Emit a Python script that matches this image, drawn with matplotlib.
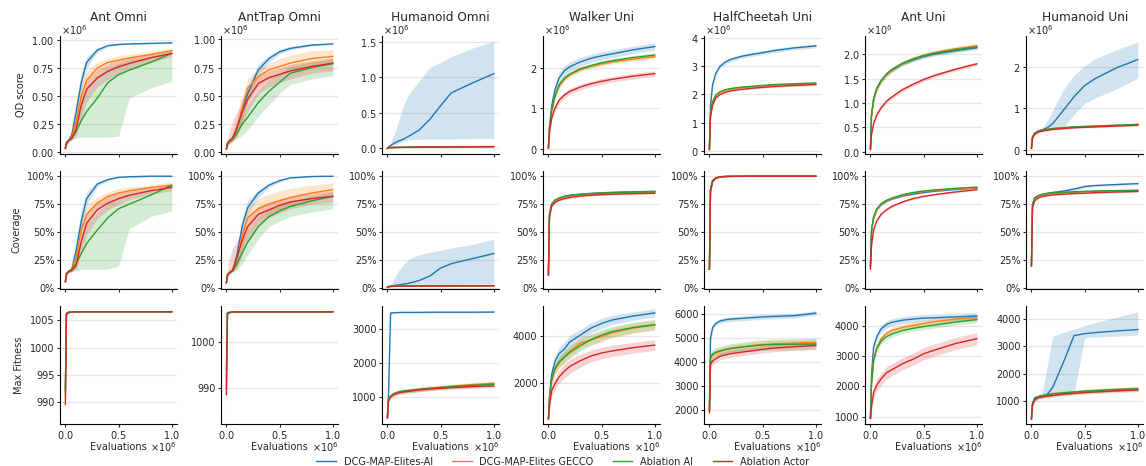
import numpy as np
import matplotlib
matplotlib.use("Agg")
import matplotlib.pyplot as plt
import matplotlib.ticker as mtick

evals = [0, 0.01, 0.03, 0.06, 0.1, 0.15, 0.2, 0.3, 0.4, 0.5, 0.6, 0.8, 1.0]

methods = ['DCG-MAP-Elites-AI', 'DCG-MAP-Elites GECCO', 'Ablation AI', 'Ablation Actor']
colors = ['#1f77b4', '#ff7f0e', '#2ca02c', '#d62728']
envs = ['Ant Omni', 'AntTrap Omni', 'Humanoid Omni', 'Walker Uni',
        'HalfCheetah Uni', 'Ant Uni', 'Humanoid Uni']
row_labels = ['QD score', 'Coverage', 'Max Fitness']

# ---------------- QD score (x1e6) ----------------
qd_ant_omni_mean = [
    [0.03, 0.07, 0.10, 0.15, 0.35, 0.62, 0.80, 0.91, 0.95, 0.96, 0.965, 0.97, 0.975],
    [0.03, 0.08, 0.10, 0.13, 0.27, 0.50, 0.64, 0.75, 0.80, 0.82, 0.84, 0.87, 0.905],
    [0.03, 0.08, 0.10, 0.12, 0.18, 0.28, 0.36, 0.48, 0.62, 0.69, 0.73, 0.80, 0.88],
    [0.03, 0.08, 0.10, 0.12, 0.20, 0.42, 0.56, 0.66, 0.72, 0.76, 0.79, 0.84, 0.88]]
qd_ant_omni_lo = [
    [0.02, 0.05, 0.08, 0.12, 0.28, 0.54, 0.75, 0.89, 0.94, 0.955, 0.96, 0.965, 0.97],
    [0.02, 0.06, 0.09, 0.11, 0.18, 0.38, 0.55, 0.68, 0.74, 0.77, 0.80, 0.84, 0.88],
    [0.02, 0.06, 0.09, 0.11, 0.12, 0.13, 0.13, 0.13, 0.13, 0.14, 0.48, 0.57, 0.63],
    [0.02, 0.06, 0.09, 0.10, 0.14, 0.30, 0.45, 0.58, 0.65, 0.70, 0.74, 0.80, 0.85]]
qd_ant_omni_hi = [
    [0.04, 0.09, 0.12, 0.20, 0.45, 0.72, 0.85, 0.93, 0.96, 0.97, 0.97, 0.975, 0.98],
    [0.04, 0.10, 0.12, 0.16, 0.36, 0.60, 0.72, 0.80, 0.84, 0.86, 0.87, 0.90, 0.925],
    [0.04, 0.10, 0.12, 0.15, 0.28, 0.45, 0.58, 0.68, 0.75, 0.79, 0.82, 0.86, 0.90],
    [0.04, 0.10, 0.12, 0.15, 0.30, 0.52, 0.65, 0.74, 0.79, 0.82, 0.84, 0.88, 0.91]]

qd_anttrap_mean = [
    [0.03, 0.07, 0.10, 0.12, 0.22, 0.37, 0.52, 0.73, 0.83, 0.89, 0.92, 0.95, 0.96],
    [0.03, 0.08, 0.10, 0.12, 0.22, 0.40, 0.57, 0.67, 0.73, 0.76, 0.79, 0.83, 0.85],
    [0.03, 0.08, 0.10, 0.12, 0.17, 0.25, 0.31, 0.44, 0.54, 0.62, 0.70, 0.75, 0.785],
    [0.03, 0.08, 0.10, 0.13, 0.22, 0.36, 0.47, 0.61, 0.66, 0.69, 0.72, 0.76, 0.79]]
qd_anttrap_lo = [
    [0.02, 0.05, 0.08, 0.10, 0.17, 0.30, 0.45, 0.68, 0.80, 0.87, 0.91, 0.94, 0.955],
    [0.02, 0.06, 0.08, 0.10, 0.14, 0.28, 0.45, 0.58, 0.64, 0.68, 0.72, 0.77, 0.79],
    [0.02, 0.06, 0.08, 0.10, 0.12, 0.15, 0.20, 0.32, 0.42, 0.52, 0.60, 0.65, 0.68],
    [0.02, 0.06, 0.08, 0.10, 0.15, 0.25, 0.36, 0.52, 0.58, 0.62, 0.65, 0.70, 0.72]]
qd_anttrap_hi = [
    [0.04, 0.09, 0.12, 0.15, 0.27, 0.44, 0.58, 0.78, 0.86, 0.91, 0.94, 0.96, 0.965],
    [0.04, 0.10, 0.13, 0.16, 0.32, 0.50, 0.65, 0.74, 0.79, 0.83, 0.86, 0.90, 0.91],
    [0.04, 0.10, 0.12, 0.14, 0.22, 0.33, 0.42, 0.55, 0.64, 0.70, 0.76, 0.80, 0.83],
    [0.04, 0.12, 0.20, 0.28, 0.36, 0.47, 0.55, 0.68, 0.72, 0.75, 0.78, 0.81, 0.84]]

qd_humanoid_omni_mean = [
    [0.0, 0.02, 0.04, 0.07, 0.10, 0.13, 0.17, 0.26, 0.41, 0.60, 0.78, 0.92, 1.05],
    [0.0, 0.008, 0.011, 0.013, 0.015, 0.016, 0.017, 0.019, 0.020, 0.021, 0.022, 0.024, 0.026],
    [0.0, 0.008, 0.011, 0.013, 0.015, 0.016, 0.017, 0.019, 0.020, 0.021, 0.022, 0.024, 0.025],
    [0.0, 0.008, 0.011, 0.013, 0.014, 0.015, 0.016, 0.018, 0.019, 0.020, 0.021, 0.023, 0.024]]
qd_humanoid_omni_band = [0.0, 0.004, 0.004, 0.004]
qd_humanoid_omni_lo = [
    [0.0, 0.01, 0.02, 0.04, 0.07, 0.10, 0.12, 0.13, 0.13, 0.13, 0.13, 0.14, 0.14], None, None, None]
qd_humanoid_omni_hi = [
    [0.0, 0.03, 0.08, 0.18, 0.36, 0.60, 0.76, 0.95, 1.14, 1.21, 1.29, 1.41, 1.51], None, None, None]

qd_walker_mean = [
    [0.02, 0.55, 1.05, 1.45, 1.75, 1.93, 2.03, 2.15, 2.24, 2.30, 2.35, 2.45, 2.53],
    [0.02, 0.50, 0.93, 1.27, 1.55, 1.72, 1.83, 1.96, 2.04, 2.10, 2.15, 2.22, 2.28],
    [0.02, 0.50, 0.95, 1.30, 1.58, 1.75, 1.85, 1.98, 2.06, 2.13, 2.18, 2.26, 2.32],
    [0.02, 0.40, 0.75, 1.00, 1.20, 1.33, 1.42, 1.53, 1.61, 1.67, 1.72, 1.80, 1.86]]
qd_walker_band = [
    [0.01, 0.08, 0.12, 0.14, 0.14, 0.13, 0.12, 0.11, 0.10, 0.10, 0.10, 0.09, 0.09],
    [0.01, 0.05, 0.06, 0.06, 0.06, 0.05, 0.05, 0.05, 0.05, 0.05, 0.05, 0.05, 0.05],
    [0.01, 0.05, 0.06, 0.06, 0.06, 0.05, 0.05, 0.05, 0.05, 0.05, 0.05, 0.05, 0.05],
    [0.01, 0.05, 0.07, 0.08, 0.08, 0.08, 0.07, 0.07, 0.07, 0.07, 0.07, 0.07, 0.07]]

qd_halfcheetah_mean = [
    [0.05, 1.60, 2.35, 2.75, 3.00, 3.15, 3.24, 3.35, 3.42, 3.48, 3.55, 3.65, 3.72],
    [0.05, 1.30, 1.73, 1.96, 2.08, 2.15, 2.19, 2.24, 2.27, 2.30, 2.33, 2.36, 2.38],
    [0.05, 1.30, 1.75, 1.98, 2.10, 2.17, 2.21, 2.26, 2.29, 2.32, 2.35, 2.38, 2.41],
    [0.05, 1.20, 1.62, 1.88, 2.00, 2.08, 2.13, 2.18, 2.22, 2.25, 2.28, 2.32, 2.35]]
qd_halfcheetah_band = [
    [0.02, 0.10, 0.10, 0.08, 0.07, 0.07, 0.07, 0.07, 0.07, 0.07, 0.07, 0.07, 0.07],
    0.03, 0.03, 0.03]

qd_ant_uni_mean = [
    [0.05, 0.75, 1.08, 1.30, 1.45, 1.58, 1.67, 1.80, 1.88, 1.95, 2.00, 2.07, 2.13],
    [0.05, 0.72, 1.05, 1.28, 1.44, 1.58, 1.68, 1.81, 1.90, 1.97, 2.03, 2.11, 2.17],
    [0.05, 0.75, 1.08, 1.30, 1.46, 1.59, 1.68, 1.81, 1.90, 1.97, 2.02, 2.09, 2.15],
    [0.05, 0.35, 0.58, 0.76, 0.90, 1.03, 1.12, 1.27, 1.38, 1.48, 1.56, 1.69, 1.80]]
qd_ant_uni_band = [0.04, 0.05, 0.04, 0.04]

qd_humanoid_uni_mean = [
    [0.03, 0.30, 0.40, 0.45, 0.48, 0.53, 0.63, 0.95, 1.28, 1.55, 1.72, 1.98, 2.18],
    [0.03, 0.30, 0.39, 0.44, 0.47, 0.49, 0.51, 0.53, 0.55, 0.56, 0.57, 0.59, 0.61],
    [0.03, 0.30, 0.39, 0.44, 0.47, 0.49, 0.51, 0.53, 0.55, 0.56, 0.57, 0.59, 0.61],
    [0.03, 0.28, 0.37, 0.42, 0.45, 0.47, 0.49, 0.51, 0.53, 0.54, 0.55, 0.57, 0.59]]
qd_humanoid_uni_band = [0.0, 0.02, 0.02, 0.02]
qd_humanoid_uni_lo = [
    [0.03, 0.29, 0.39, 0.44, 0.46, 0.48, 0.49, 0.52, 0.85, 1.12, 1.25, 1.47, 1.73], None, None, None]
qd_humanoid_uni_hi = [
    [0.03, 0.31, 0.42, 0.47, 0.52, 0.70, 0.95, 1.45, 1.80, 2.03, 2.20, 2.42, 2.60], None, None, None]

# ---------------- Coverage (%) ----------------
cov_ant_omni_mean = [
    [6, 13, 15, 17, 33, 60, 80, 93, 97, 99, 99.5, 100, 100],
    [6, 13, 15, 17, 27, 52, 66, 76, 82, 85, 87, 90, 92],
    [6, 13, 15, 17, 22, 31, 40, 52, 63, 71, 75, 83, 92],
    [6, 13, 15, 16, 20, 42, 58, 70, 76, 80, 83, 87, 90]]
cov_ant_omni_lo = [
    [5, 11, 14, 15, 26, 52, 74, 91, 96, 98.5, 99, 99.5, 99.5],
    [5, 11, 14, 15, 20, 42, 57, 70, 77, 81, 84, 88, 90],
    [5, 11, 14, 15, 16, 17, 17, 17, 17, 20, 53, 64, 69],
    [5, 11, 14, 15, 16, 32, 48, 62, 70, 75, 79, 84, 87]]
cov_ant_omni_hi = [
    [7, 15, 16, 19, 42, 70, 86, 95, 98, 99.5, 100, 100, 100.3],
    [7, 15, 16, 19, 35, 62, 74, 82, 86, 89, 90, 92, 95],
    [7, 15, 16, 19, 30, 45, 57, 68, 76, 81, 84, 87, 93],
    [7, 15, 16, 18, 28, 52, 67, 77, 82, 85, 87, 90, 92]]

cov_anttrap_mean = [
    [5, 12, 14, 16, 30, 56, 72, 85, 92, 96, 98.5, 99.7, 100],
    [5, 12, 14, 16, 27, 47, 63, 71, 75, 78, 81, 85, 88],
    [5, 12, 14, 16, 22, 32, 41, 55, 64, 69, 73, 78, 82],
    [5, 12, 14, 16, 28, 43, 55, 66, 70, 74, 77, 80, 82]]
cov_anttrap_lo = [
    [4, 10, 13, 15, 24, 48, 66, 81, 90, 95, 98, 99.5, 99.8],
    [4, 10, 13, 15, 20, 36, 52, 62, 66, 70, 74, 79, 82],
    [4, 10, 13, 15, 16, 22, 30, 44, 55, 60, 64, 68, 71],
    [4, 10, 13, 15, 18, 30, 43, 57, 63, 67, 71, 75, 77]]
cov_anttrap_hi = [
    [6, 14, 15, 18, 36, 63, 78, 88, 94, 97.5, 99, 100, 100.2],
    [6, 14, 16, 20, 35, 58, 72, 80, 84, 87, 89, 92, 94],
    [6, 14, 15, 18, 28, 42, 52, 63, 70, 75, 78, 82, 86],
    [6, 18, 28, 36, 42, 54, 65, 73, 77, 80, 82, 85, 87]]

cov_humanoid_omni_mean = [
    [1, 1.5, 2, 2.5, 3, 3.7, 4.5, 7, 11, 18, 22, 26.5, 31],
    [1, 1.5, 1.7, 1.8, 1.9, 2.0, 2.0, 2.1, 2.1, 2.2, 2.2, 2.3, 2.4],
    [1, 1.5, 1.7, 1.8, 1.9, 2.0, 2.0, 2.1, 2.1, 2.2, 2.2, 2.3, 2.3],
    [1, 1.5, 1.7, 1.8, 1.9, 1.9, 2.0, 2.0, 2.1, 2.1, 2.2, 2.2, 2.3]]
cov_humanoid_omni_band = [0.0, 0.3, 0.3, 0.3]
cov_humanoid_omni_lo = [
    [1, 1.2, 1.5, 1.8, 2, 2.3, 2.5, 2.8, 3, 3.2, 3.4, 3.6, 3.8], None, None, None]
cov_humanoid_omni_hi = [
    [1, 1.5, 2.5, 8, 15, 21, 26, 30, 32, 34, 36, 39, 44], None, None, None]

cov_walker_mean = [
    [12, 66, 75, 78.5, 80.5, 82, 83, 84, 84.7, 85.2, 85.6, 86.1, 86.5],
    [12, 65, 74, 78, 80, 81.5, 82.5, 83.5, 84.1, 84.6, 85, 85.5, 85.8],
    [12, 66, 75, 78.5, 80.5, 82, 82.8, 83.8, 84.4, 84.9, 85.3, 85.8, 86.1],
    [12, 64, 73, 76.5, 78.5, 80, 81, 82.3, 83, 83.5, 83.9, 84.4, 84.8]]
cov_walker_band = [1.0, 0.6, 0.6, 0.6]

cov_halfcheetah_mean = [
    [17, 88, 96, 98.5, 99.5, 99.8, 99.9, 100, 100, 100, 100, 100, 100],
    [17, 88, 96, 98.5, 99.4, 99.7, 99.9, 100, 100, 100, 100, 100, 100],
    [17, 88, 96, 98.5, 99.5, 99.8, 99.9, 100, 100, 100, 100, 100, 100],
    [17, 87, 95.5, 98.3, 99.3, 99.7, 99.8, 99.9, 100, 100, 100, 100, 100]]
cov_halfcheetah_band = [
    [0.5, 3, 1, 0.5, 0.3, 0.2, 0.2, 0.1, 0.1, 0.1, 0.1, 0.1, 0.1],
    [0.5, 3, 1, 0.5, 0.3, 0.2, 0.2, 0.1, 0.1, 0.1, 0.1, 0.1, 0.1],
    [0.5, 3, 1, 0.5, 0.3, 0.2, 0.2, 0.1, 0.1, 0.1, 0.1, 0.1, 0.1],
    [0.5, 3, 1, 0.5, 0.3, 0.2, 0.2, 0.1, 0.1, 0.1, 0.1, 0.1, 0.1]]

cov_ant_uni_mean = [
    [20, 51, 63, 70, 74.5, 77.5, 79.5, 82.3, 84, 85.5, 86.6, 88.2, 89.5],
    [20, 51, 63, 70, 75, 78, 80, 83, 85, 86.3, 87.3, 88.7, 89.5],
    [20, 52, 64, 71, 75.5, 78.5, 80.5, 83.5, 85.5, 86.8, 87.8, 89.2, 90.3],
    [17, 38, 52, 60, 66, 70, 73, 77, 80, 82, 83.5, 86, 88]]
cov_ant_uni_band = [0.8, 0.8, 0.8, 0.8]

cov_humanoid_uni_mean = [
    [20, 75, 80.5, 82.5, 83.8, 84.8, 85.5, 86.7, 88.5, 90.8, 91.7, 92.6, 93.4],
    [20, 74.5, 80, 82, 83.3, 84.2, 84.7, 85.4, 85.8, 86.2, 86.5, 86.9, 87.2],
    [20, 75, 80.5, 82.5, 83.7, 84.5, 85, 85.7, 86.1, 86.5, 86.8, 87.2, 87.5],
    [20, 72, 78, 80.5, 81.8, 82.7, 83.3, 84, 84.5, 84.9, 85.3, 85.9, 86.4]]
cov_humanoid_uni_band = [
    [0.5, 1.5, 1, 1, 1, 1, 1.2, 1.5, 1.6, 1.3, 1, 1, 1], 0.6, 0.6, 0.6]

# ---------------- Max fitness ----------------
fit_ant_omni_mean = [
    [992, 1006.3, 1006.5, 1006.55, 1006.6, 1006.6, 1006.6, 1006.6, 1006.6, 1006.6, 1006.6, 1006.6, 1006.6],
    [991, 1006.2, 1006.5, 1006.55, 1006.6, 1006.6, 1006.6, 1006.6, 1006.6, 1006.6, 1006.6, 1006.6, 1006.6],
    [992.5, 1006.3, 1006.5, 1006.55, 1006.6, 1006.6, 1006.6, 1006.6, 1006.6, 1006.6, 1006.6, 1006.6, 1006.6],
    [989.5, 1006.2, 1006.45, 1006.55, 1006.6, 1006.6, 1006.6, 1006.6, 1006.6, 1006.6, 1006.6, 1006.6, 1006.6]]
fit_ant_omni_band = [
    [1.0, 0.3, 0.1, 0.05, 0.05, 0.05, 0.05, 0.05, 0.05, 0.05, 0.05, 0.05, 0.05],
    [1.0, 0.3, 0.1, 0.05, 0.05, 0.05, 0.05, 0.05, 0.05, 0.05, 0.05, 0.05, 0.05],
    [1.0, 0.3, 0.1, 0.05, 0.05, 0.05, 0.05, 0.05, 0.05, 0.05, 0.05, 0.05, 0.05],
    [2.6, 0.4, 0.1, 0.05, 0.05, 0.05, 0.05, 0.05, 0.05, 0.05, 0.05, 0.05, 0.05]]

fit_anttrap_mean = [
    [990, 1006.2, 1006.45, 1006.5, 1006.55, 1006.6, 1006.6, 1006.6, 1006.6, 1006.6, 1006.6, 1006.6, 1006.6],
    [992, 1006.3, 1006.5, 1006.55, 1006.6, 1006.6, 1006.6, 1006.6, 1006.6, 1006.6, 1006.6, 1006.6, 1006.6],
    [994, 1006.4, 1006.5, 1006.55, 1006.6, 1006.6, 1006.6, 1006.6, 1006.6, 1006.6, 1006.6, 1006.6, 1006.6],
    [988.5, 1006.2, 1006.45, 1006.55, 1006.6, 1006.6, 1006.6, 1006.6, 1006.6, 1006.6, 1006.6, 1006.6, 1006.6]]
fit_anttrap_band = [
    [6.5, 0.4, 0.1, 0.05, 0.05, 0.05, 0.05, 0.05, 0.05, 0.05, 0.05, 0.05, 0.05],
    [1.5, 0.3, 0.1, 0.05, 0.05, 0.05, 0.05, 0.05, 0.05, 0.05, 0.05, 0.05, 0.05],
    [1.0, 0.3, 0.1, 0.05, 0.05, 0.05, 0.05, 0.05, 0.05, 0.05, 0.05, 0.05, 0.05],
    [2.0, 0.4, 0.1, 0.05, 0.05, 0.05, 0.05, 0.05, 0.05, 0.05, 0.05, 0.05, 0.05]]

fit_humanoid_omni_mean = [
    [380, 1000, 3480, 3490, 3495, 3500, 3500, 3500, 3505, 3505, 3505, 3505, 3510],
    [380, 900, 1010, 1080, 1130, 1160, 1180, 1220, 1250, 1280, 1310, 1360, 1400],
    [380, 920, 1020, 1090, 1140, 1170, 1190, 1220, 1250, 1275, 1300, 1340, 1370],
    [380, 880, 1000, 1070, 1110, 1140, 1160, 1200, 1230, 1250, 1270, 1300, 1320]]
fit_humanoid_omni_band = [
    [30, 150, 40, 25, 20, 20, 20, 20, 20, 20, 20, 20, 20], 60, 60, 50]

fit_walker_mean = [
    [450, 1400, 2350, 2900, 3250, 3450, 3750, 4050, 4350, 4550, 4700, 4870, 5000],
    [450, 1300, 2100, 2550, 2850, 3100, 3350, 3700, 3850, 3980, 4150, 4350, 4480],
    [450, 1350, 2150, 2600, 2900, 3100, 3300, 3600, 3850, 4050, 4200, 4380, 4500],
    [450, 1000, 1650, 1950, 2250, 2500, 2700, 2950, 3150, 3280, 3370, 3510, 3620]]
fit_walker_band = [
    [80, 200, 250, 250, 280, 300, 280, 250, 230, 220, 200, 180, 180],
    [80, 200, 220, 220, 230, 250, 250, 240, 230, 230, 220, 220, 220],
    [80, 200, 220, 220, 230, 250, 250, 240, 230, 230, 220, 220, 220],
    [80, 200, 230, 250, 280, 300, 300, 280, 260, 250, 240, 230, 230]]

fit_halfcheetah_mean = [
    [2100, 5000, 5450, 5620, 5720, 5770, 5800, 5830, 5860, 5890, 5910, 5940, 6050],
    [2000, 4150, 4300, 4380, 4450, 4520, 4570, 4640, 4700, 4740, 4770, 4800, 4830],
    [2000, 4200, 4350, 4420, 4480, 4530, 4580, 4630, 4680, 4720, 4740, 4750, 4760],
    [1900, 3900, 4050, 4150, 4250, 4310, 4360, 4420, 4480, 4540, 4590, 4650, 4700]]
fit_halfcheetah_band = [
    [250, 200, 120, 100, 100, 100, 100, 100, 100, 100, 100, 100, 100],
    [250, 200, 150, 150, 150, 150, 150, 150, 150, 150, 150, 150, 150],
    [300, 250, 200, 200, 200, 200, 200, 200, 220, 230, 230, 230, 230],
    [250, 200, 150, 150, 150, 150, 150, 150, 150, 150, 150, 150, 150]]

fit_ant_uni_mean = [
    [950, 2400, 3300, 3650, 3900, 4050, 4120, 4190, 4230, 4260, 4270, 4300, 4330],
    [950, 2100, 2900, 3300, 3580, 3750, 3850, 3950, 4020, 4080, 4140, 4230, 4280],
    [950, 2050, 2850, 3250, 3500, 3650, 3730, 3850, 3920, 3980, 4030, 4130, 4210],
    [950, 1350, 1800, 2050, 2250, 2450, 2550, 2750, 2900, 3080, 3200, 3420, 3580]]
fit_ant_uni_band = [120, 100, 100, 200]

fit_humanoid_uni_mean = [
    [350, 900, 1120, 1160, 1180, 1250, 1500, 2400, 3380, 3450, 3490, 3550, 3600],
    [350, 880, 1060, 1140, 1180, 1220, 1250, 1290, 1320, 1350, 1380, 1420, 1450],
    [350, 900, 1080, 1150, 1190, 1230, 1260, 1300, 1330, 1360, 1380, 1420, 1450],
    [350, 860, 1040, 1120, 1150, 1180, 1200, 1250, 1280, 1310, 1330, 1370, 1400]]
fit_humanoid_uni_band = [0, 70, 70, 60]
fit_humanoid_uni_lo = [
    [340, 850, 1080, 1120, 1150, 1180, 1200, 1230, 1280, 3300, 3330, 3360, 3400], None, None, None]
fit_humanoid_uni_hi = [
    [360, 950, 1180, 1230, 1300, 2300, 3350, 3500, 3620, 3750, 3850, 4050, 4250], None, None, None]

# axis limits and ticks per column
qd_ylims = [(-0.018, 1.036), (-0.013, 1.03), (-0.075, 1.58), (-0.12, 2.79),
            (-0.1, 4.07), (-0.04, 2.37), (-0.1, 2.75)]
qd_yticks = [[0, 0.25, 0.5, 0.75, 1.0], [0, 0.25, 0.5, 0.75, 1.0], [0, 0.5, 1.0, 1.5],
             [0, 1, 2], [0, 1, 2, 3, 4], [0, 0.5, 1.0, 1.5, 2.0], [0, 1, 2]]
fit_ylims = [(985.9, 1007.6), (982.1, 1007.8), (192, 3680), (230, 5286),
             (1431, 6332), (759, 4650), (165, 4446)]
fit_yticks = [[990, 995, 1000, 1005], [990, 1000], [1000, 2000, 3000], [2000, 4000],
              [2000, 3000, 4000, 5000, 6000], [1000, 2000, 3000, 4000],
              [1000, 2000, 3000, 4000]]

qd_rows = [
    (qd_ant_omni_mean, None, qd_ant_omni_lo, qd_ant_omni_hi),
    (qd_anttrap_mean, None, qd_anttrap_lo, qd_anttrap_hi),
    (qd_humanoid_omni_mean, qd_humanoid_omni_band, qd_humanoid_omni_lo, qd_humanoid_omni_hi),
    (qd_walker_mean, qd_walker_band, None, None),
    (qd_halfcheetah_mean, qd_halfcheetah_band, None, None),
    (qd_ant_uni_mean, qd_ant_uni_band, None, None),
    (qd_humanoid_uni_mean, qd_humanoid_uni_band, qd_humanoid_uni_lo, qd_humanoid_uni_hi)]
cov_rows = [
    (cov_ant_omni_mean, None, cov_ant_omni_lo, cov_ant_omni_hi),
    (cov_anttrap_mean, None, cov_anttrap_lo, cov_anttrap_hi),
    (cov_humanoid_omni_mean, cov_humanoid_omni_band, cov_humanoid_omni_lo, cov_humanoid_omni_hi),
    (cov_walker_mean, cov_walker_band, None, None),
    (cov_halfcheetah_mean, cov_halfcheetah_band, None, None),
    (cov_ant_uni_mean, cov_ant_uni_band, None, None),
    (cov_humanoid_uni_mean, cov_humanoid_uni_band, None, None)]
fit_rows = [
    (fit_ant_omni_mean, fit_ant_omni_band, None, None),
    (fit_anttrap_mean, fit_anttrap_band, None, None),
    (fit_humanoid_omni_mean, fit_humanoid_omni_band, None, None),
    (fit_walker_mean, fit_walker_band, None, None),
    (fit_halfcheetah_mean, fit_halfcheetah_band, None, None),
    (fit_ant_uni_mean, fit_ant_uni_band, None, None),
    (fit_humanoid_uni_mean, fit_humanoid_uni_band, fit_humanoid_uni_lo, fit_humanoid_uni_hi)]


def draw_panel(ax, mean, band, lo, hi, scale=1.0):
    x = np.array(evals) * 1e6
    for i in range(4):
        m = np.array(mean[i], dtype=float)
        if lo is not None and lo[i] is not None:
            l, h = np.array(lo[i], dtype=float), np.array(hi[i], dtype=float)
        else:
            b = np.array(band[i], dtype=float)
            l, h = m - b, m + b
        ax.fill_between(x, l * scale, h * scale, color=colors[i], alpha=0.2, linewidth=0)
        ax.plot(x, m * scale, color=colors[i], lw=1.0, label=methods[i])


plt.rcParams['font.family'] = 'DejaVu Sans'
plt.rcParams['font.size'] = 7
plt.rcParams['axes.linewidth'] = 0.8
for key in ['text.color', 'axes.labelcolor', 'xtick.color', 'ytick.color']:
    plt.rcParams[key] = '#262626'

fig, axes = plt.subplots(3, 7, figsize=(11.46, 4.66), dpi=100)
fig.subplots_adjust(left=0.0524, right=0.9975, top=0.9227, bottom=0.0901,
                    wspace=0.376, hspace=0.148)

for c in range(7):
    for r, rows in enumerate([qd_rows, cov_rows, fit_rows]):
        ax = axes[r, c]
        mean, band, lo, hi = rows[c]
        draw_panel(ax, mean, band, lo, hi, scale=1e6 if r == 0 else 1.0)

        ax.spines['top'].set_visible(False)
        ax.spines['right'].set_visible(False)
        ax.yaxis.grid(True, color='#e6e6e6', lw=0.9)
        ax.set_axisbelow(True)
        ax.tick_params(labelsize=7, length=2, width=0.8, pad=2)
        ax.tick_params(axis='x', pad=1.5)

        ax.set_xlim(-0.05e6, 1.05e6)
        ax.set_xticks([0, 0.5e6, 1.0e6])
        xfmt = mtick.ScalarFormatter(useMathText=True)
        xfmt.set_powerlimits((0, 0))
        ax.xaxis.set_major_formatter(xfmt)
        # the x10^6 multiplier is written next to the axis label instead
        ax.xaxis.offsetText.set_visible(False)
        if r < 2:
            ax.tick_params(labelbottom=False)
        else:
            ax.set_xlabel('Evaluations', fontsize=7, labelpad=1)
            ax.annotate(r'$\times10^{6}$', xy=(1.0, 0), xycoords='axes fraction',
                        xytext=(0, -20), textcoords='offset points',
                        ha='right', va='baseline', fontsize=7)

        if r == 0:
            ax.set_ylim(qd_ylims[c][0] * 1e6, qd_ylims[c][1] * 1e6)
            ax.set_yticks([t * 1e6 for t in qd_yticks[c]])
            yfmt = mtick.ScalarFormatter(useMathText=True)
            yfmt.set_powerlimits((0, 0))
            ax.yaxis.set_major_formatter(yfmt)
            ax.yaxis.offsetText.set_visible(False)
            ax.annotate(r'$\times10^{6}$', xy=(0, 1.0), xycoords='axes fraction',
                        xytext=(0.5, 1), textcoords='offset points',
                        ha='left', va='baseline', fontsize=7)
            ax.set_title(envs[c], fontsize=8.7, y=1.0, pad=11)
        elif r == 1:
            ax.set_ylim(-0.5, 104.5)
            ax.set_yticks([0, 25, 50, 75, 100])
            ax.yaxis.set_major_formatter(mtick.PercentFormatter(xmax=100, decimals=0))
        else:
            ax.set_ylim(*fit_ylims[c])
            ax.set_yticks(fit_yticks[c])
            ax.yaxis.set_major_formatter(mtick.ScalarFormatter(useOffset=False))

        if c == 0:
            ax.set_ylabel(row_labels[r], fontsize=7)

handles, labels = axes[0, 0].get_legend_handles_labels()
fig.legend(handles, labels, loc='lower center', ncol=4, frameon=False, fontsize=7,
           bbox_to_anchor=(0.491, -0.02))

fig.savefig('out.png', dpi=100)
